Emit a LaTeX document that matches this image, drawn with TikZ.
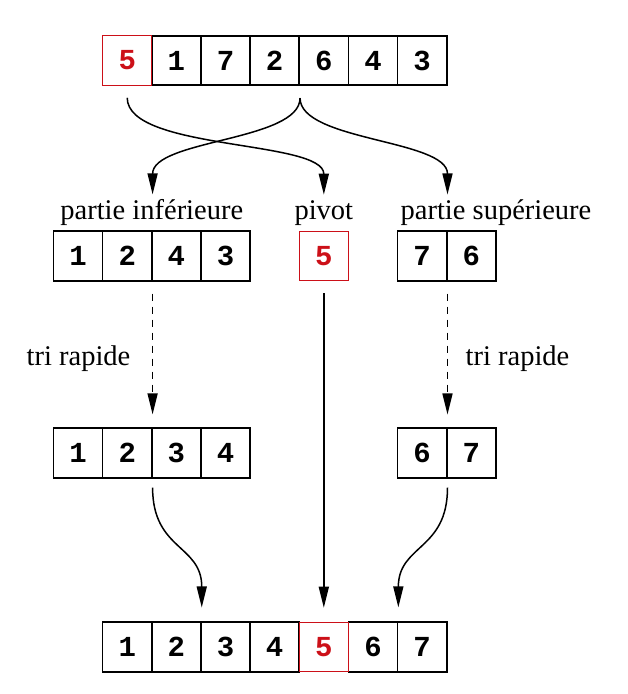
\documentclass[tikz,border=0pt]{standalone}
\usepackage{fontspec}
\setmainfont{Liberation Serif}
\newfontfamily\digitfont{Liberation Mono}
\usetikzlibrary{arrows.meta,calc}
\definecolor{pivred}{RGB}{204,16,24}
\begin{document}
\begin{tikzpicture}[x=1pt,y=-1pt,
  cell/.style={draw, line width=1.6pt, minimum width=49.15pt, minimum height=49.5pt,
    inner sep=0pt, font=\digitfont\bfseries\fontsize{29}{29}\selectfont},
  pcell/.style={cell, draw=pivred, text=pivred, line width=1.1pt},
  lab/.style={font=\fontsize{28.5}{30}\selectfont, inner sep=0pt, anchor=base},
  arr/.style={line width=1.5pt, -{Triangle[length=21pt,width=10pt]}},
  dasharr/.style={arr, dash pattern=on 7pt off 6pt},
]
\useasboundingbox (0,0) rectangle (628,694);
% top array
\foreach \v [count=\i from 2] in {1,7,2,6,4,3}
  \node[cell] (t\i) at ({53.5+49.15*\i+24.575},60.5) {\v};
\node[pcell] (t1) at ({53.5+49.15+24.575},60.5) {5};
% second row
\foreach \v [count=\i] in {1,2,4,3}
  \node[cell] (a\i) at ({53.5+49.15*(\i-1)+24.575},256) {\v};
\node[pcell] (p) at ({53.5+49.15*5+24.575},256) {5};
\foreach \v [count=\i] in {7,6}
  \node[cell] (b\i) at ({53.5+49.15*(\i+6)+24.575},256) {\v};
% third row
\foreach \v [count=\i] in {1,2,3,4}
  \node[cell] (c\i) at ({53.5+49.15*(\i-1)+24.575},453) {\v};
\foreach \v [count=\i] in {6,7}
  \node[cell] (d\i) at ({53.5+49.15*(\i+6)+24.575},453) {\v};
% bottom row
\foreach \v [count=\i] in {1,2,3,4}
  \node[cell] (r\i) at ({53.5+49.15*\i+24.575},647) {\v};
\foreach \v [count=\i from 6] in {6,7}
  \node[cell] (r\i) at ({53.5+49.15*\i+24.575},647) {\v};
\node[pcell] (r5) at ({53.5+49.15*5+24.575},647) {5};
% labels
\node[lab] (la) at (151.8,219) {partie inférieure};
\node[lab] (lp) at (323.8,219) {pivot};
\node[lab] (lb) at (496,219) {partie supérieure};
\node[lab] (ta) at (78.5,365) {tri rapide};
\node[lab] (tb) at (517.5,365) {tri rapide};
% coordinates
\coordinate (s5) at ($(t1.south)+(0,12)$);
\coordinate (sb) at ($(t4.south east)+(0,12)$);
\coordinate (eL) at ($(a2.north east)+(0,-36)$);
\coordinate (eP) at ($(p.north)+(0,-36)$);
\coordinate (eR) at ($(b1.north east)+(0,-36)$);
\coordinate (dLs) at ($(a2.south east)+(0,12)$);
\coordinate (dLe) at ($(c2.north east)+(0,-13)$);
\coordinate (dRs) at ($(b1.south east)+(0,12)$);
\coordinate (dRe) at ($(d1.north east)+(0,-13)$);
\coordinate (pS) at ($(p.south)+(0,12)$);
\coordinate (pE) at ($(r5.north)+(0,-14)$);
\coordinate (bLs) at ($(c2.south east)+(0,9)$);
\coordinate (bLe) at ($(r2.north east)+(0,-14)$);
\coordinate (bRs) at ($(d1.south east)+(0,9)$);
\coordinate (bRe) at ($(r6.north east)+(0,-14)$);
% connectors
\draw[arr] (s5) .. controls +(0,53) and +(0,-55) .. (eP);
\draw[arr] (sb) .. controls +(0,43) and +(0,-55) .. (eL);
\draw[arr] (sb) .. controls +(0,43) and +(0,-55) .. (eR);
\draw[dasharr] (dLs) -- (dLe);
\draw[dasharr] (dRs) -- (dRe);
\draw[arr] (pS) -- (pE);
\draw[arr] (bLs) .. controls +(0,63) and +(0,-63) .. (bLe);
\draw[arr] (bRs) .. controls +(0,63) and +(0,-63) .. (bRe);
\end{tikzpicture}
\end{document}
